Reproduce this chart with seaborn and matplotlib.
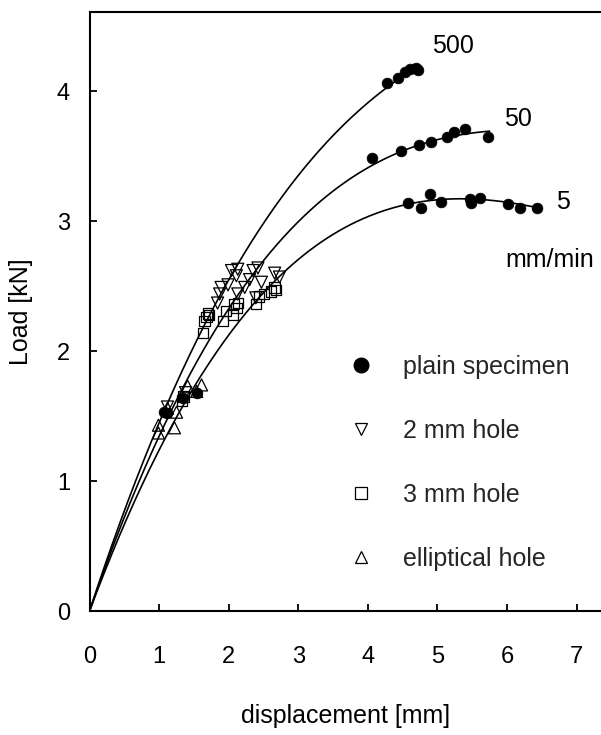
import numpy as np
import pandas as pd
import matplotlib
matplotlib.use("Agg")
import matplotlib.pyplot as plt
from matplotlib.lines import Line2D
import seaborn as sns

sns.set_theme(style="white")
plt.rcParams['font.family'] = ['Liberation Sans', 'DejaVu Sans']

# ---- data ----
# plain specimen points (filled circles)
plain_x = [4.28, 4.43, 4.53, 4.60, 4.69, 4.72,
           4.06, 4.48, 4.74, 4.91, 5.13, 5.24, 5.40, 5.72,
           4.57, 4.77, 4.89, 5.05, 5.47, 5.48, 5.61, 6.02, 6.18, 6.43,
           1.07, 1.12, 1.35, 1.54]
plain_y = [4.06, 4.10, 4.15, 4.17, 4.18, 4.16,
           3.49, 3.54, 3.59, 3.61, 3.65, 3.69, 3.71, 3.65,
           3.14, 3.10, 3.21, 3.15, 3.17, 3.14, 3.18, 3.13, 3.10, 3.10,
           1.53, 1.52, 1.64, 1.68]

# 2 mm hole (down triangles)
hole2_x = [2.04, 2.13, 2.11, 1.89, 1.99, 1.87, 1.84, 2.35, 2.42, 2.30,
           2.47, 2.23, 2.39, 2.66, 2.73, 2.13, 1.12, 1.38]
hole2_y = [2.62, 2.63, 2.58, 2.49, 2.51, 2.44, 2.37, 2.62, 2.64, 2.55,
           2.53, 2.49, 2.41, 2.60, 2.57, 2.44, 1.57, 1.68]

# 3 mm hole (squares)
hole3_x = [1.63, 1.65, 1.68, 1.70, 1.72, 1.92, 1.96, 2.06, 2.08, 2.13,
           2.11, 2.39, 2.44, 2.51, 2.61, 2.66, 2.68, 1.33, 1.35]
hole3_y = [2.14, 2.23, 2.26, 2.29, 2.28, 2.23, 2.31, 2.28, 2.36, 2.37,
           2.33, 2.36, 2.42, 2.44, 2.46, 2.49, 2.47, 1.62, 1.65]

# elliptical hole (up triangles)
ell_x = [0.99, 0.99, 1.22, 1.12, 1.41, 1.61, 1.54, 1.25]
ell_y = [1.43, 1.37, 1.41, 1.56, 1.73, 1.74, 1.69, 1.53]

# fitted curves, points (loading rates)
c500_x = [0, 1.04, 1.41, 1.63, 2.12, 2.59, 3.07, 3.65, 4.27, 4.72]
c500_y = [0, 1.55, 1.93, 2.15, 2.62, 3.08, 3.42, 3.73, 4.03, 4.19]
c50_x = [0, 1.12, 1.60, 2.06, 2.39, 2.87, 3.35, 3.97, 4.45, 5.03, 5.41, 5.75]
c50_y = [0, 1.55, 1.94, 2.36, 2.62, 2.92, 3.15, 3.41, 3.54, 3.64, 3.69, 3.67]
c5_x = [0, 1.25, 1.77, 2.25, 2.73, 3.35, 3.97, 4.55, 5.27, 5.75, 6.42]
c5_y = [0, 1.55, 1.94, 2.26, 2.56, 2.85, 3.03, 3.14, 3.18, 3.16, 3.10]

rate_labels = ["500", "50", "5"]
rate_label_x = [5.22, 6.16, 6.80]
rate_label_y = [4.35, 3.79, 3.15]
unit_label = "mm/min"

legend_labels = ["plain specimen", "2 mm hole", "3 mm hole", "elliptical hole"]


def fit_curve(xs, ys, n=300):
    xs = np.asarray(xs, float)
    ys = np.asarray(ys, float)
    A = np.column_stack([xs, xs ** 2, xs ** 3])
    coef, *_ = np.linalg.lstsq(A, ys, rcond=None)
    xx = np.linspace(0, xs.max(), n)
    yy = coef[0] * xx + coef[1] * xx ** 2 + coef[2] * xx ** 3
    return xx, yy


fig = plt.figure(figsize=(6.01, 7.35), dpi=100)
ax = fig.add_axes([0.149, 0.1687, 0.851, 0.815])

for cx, cy in [(c500_x, c500_y), (c50_x, c50_y), (c5_x, c5_y)]:
    xx, yy = fit_curve(cx, cy)
    sns.lineplot(x=xx, y=yy, ax=ax, color="black", linewidth=1.2, sort=False)

sns.scatterplot(x=hole3_x, y=hole3_y, ax=ax, marker="s", s=55,
                facecolor="none", edgecolor="black", linewidth=0.9)
sns.scatterplot(x=hole2_x, y=hole2_y, ax=ax, marker="v", s=75,
                facecolor="none", edgecolor="black", linewidth=0.9)
sns.scatterplot(x=ell_x, y=ell_y, ax=ax, marker="^", s=75,
                facecolor="none", edgecolor="black", linewidth=0.9)
sns.scatterplot(x=plain_x, y=plain_y, ax=ax, marker="o", s=60,
                color="black", edgecolor="black", linewidth=0.5)

for lab, lx, ly in zip(rate_labels, rate_label_x, rate_label_y):
    ax.text(lx, ly, lab, ha="center", va="center", fontsize=18, color="black")
ax.text(6.61, 2.70, unit_label, ha="center", va="center", fontsize=18, color="black")

handles = [
    Line2D([], [], linestyle="none", marker="o", markersize=10.5,
           markerfacecolor="black", markeredgecolor="black"),
    Line2D([], [], linestyle="none", marker="v", markersize=8.5,
           markerfacecolor="none", markeredgecolor="black", markeredgewidth=0.9),
    Line2D([], [], linestyle="none", marker="s", markersize=8.5,
           markerfacecolor="none", markeredgecolor="black", markeredgewidth=0.9),
    Line2D([], [], linestyle="none", marker="^", markersize=8.5,
           markerfacecolor="none", markeredgecolor="black", markeredgewidth=0.9),
]
leg = ax.legend(handles, legend_labels, loc="upper left",
                bbox_to_anchor=(0.508, 0.428), frameon=False, fontsize=18,
                handlelength=0.9, handletextpad=1.25, labelspacing=1.6,
                borderpad=0.0, borderaxespad=0.0)

ax.set_xlim(0, 7.35)
ax.set_ylim(0, 4.61)
ax.set_xticks(range(0, 8))
ax.set_yticks(range(0, 5))
ax.set_xlabel("displacement [mm]", fontsize=18, labelpad=26, color="black")
ax.set_ylabel("Load [kN]", fontsize=18, labelpad=17, color="black")

for side in ["left", "bottom", "top"]:
    ax.spines[side].set_visible(True)
    ax.spines[side].set_color("black")
    ax.spines[side].set_linewidth(1.5)
ax.spines["right"].set_visible(False)

ax.tick_params(axis="both", direction="in", length=5, width=1.3,
               colors="black", labelsize=17)
ax.tick_params(axis="x", pad=25, bottom=True, top=False)
ax.tick_params(axis="y", pad=14, left=True, right=False)
ax.grid(False)

fig.savefig("out.png", dpi=100, facecolor="white")
